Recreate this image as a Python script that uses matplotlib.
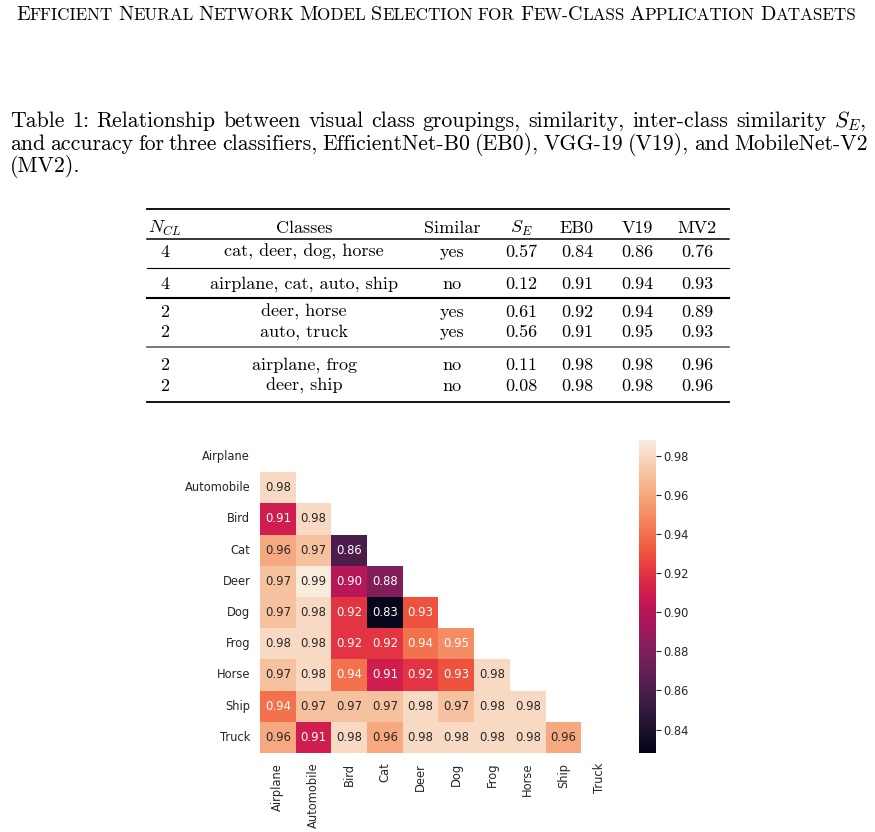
"""Table 1 page excerpt: caption, results table and pairwise accuracy heatmap."""
import matplotlib

matplotlib.use("Agg")
import matplotlib.pyplot as plt
from matplotlib.lines import Line2D
import numpy as np
import pandas as pd
import seaborn as sns

W, H = 875, 832
SERIF = "cmr10"
INK = "#262626"

TITLE = "Efficient Neural Network Model Selection for Few-Class Application Datasets"
CAPTION = [
    "Table 1: Relationship between visual class groupings, similarity, inter-class similarity $S_E$,",
    "and accuracy for three classifiers, EfficientNet-B0 (EB0), VGG-19 (V19), and MobileNet-V2",
    "(MV2).",
]

# table
table_head = ["$N_{CL}$", "Classes", "Similar", "$S_E$", "EB0", "V19", "MV2"]
n_cl = [4, 4, 2, 2, 2, 2]
groups = ["cat, deer, dog, horse", "airplane, cat, auto, ship", "deer, horse",
          "auto, truck", "airplane, frog", "deer, ship"]
similar = ["yes", "no", "yes", "yes", "no", "no"]
s_e = [0.57, 0.12, 0.61, 0.56, 0.11, 0.08]
acc_eb0 = [0.84, 0.91, 0.92, 0.91, 0.98, 0.98]
acc_v19 = [0.86, 0.94, 0.94, 0.95, 0.98, 0.98]
acc_mv2 = [0.76, 0.93, 0.89, 0.93, 0.96, 0.96]

# heatmap: two-class accuracy, lower triangle, row by row
classes = ["Airplane", "Automobile", "Bird", "Cat", "Deer", "Dog", "Frog",
           "Horse", "Ship", "Truck"]
pair_acc = [
    [],
    [0.98],
    [0.91, 0.98],
    [0.96, 0.97, 0.86],
    [0.97, 0.99, 0.90, 0.88],
    [0.97, 0.98, 0.92, 0.83, 0.93],
    [0.98, 0.98, 0.92, 0.92, 0.94, 0.95],
    [0.97, 0.98, 0.94, 0.91, 0.92, 0.93, 0.98],
    [0.94, 0.97, 0.97, 0.97, 0.98, 0.97, 0.98, 0.98],
    [0.96, 0.91, 0.98, 0.96, 0.98, 0.98, 0.98, 0.98, 0.96],
]
cbar_ticks = [0.84, 0.86, 0.88, 0.90, 0.92, 0.94, 0.96, 0.98]

plt.rcParams["mathtext.fontset"] = "cm"
plt.rcParams["xtick.color"] = INK
plt.rcParams["ytick.color"] = INK

fig = plt.figure(figsize=(W / 100, H / 100), dpi=100)
r = fig.canvas.get_renderer()


def px(x, y):
    return x / W, 1 - y / H


def width(t):
    return t.get_window_extent(r).width


def justified(line, x0, x1, y, size):
    words = line.split(" ")
    arts = [fig.text(*px(x0, y), w, family=SERIF, size=size, va="baseline")
            for w in words]
    ws = [width(a) for a in arts]
    gap = (x1 - x0 - sum(ws)) / (len(words) - 1)
    x = x0
    for a, w in zip(arts, ws):
        a.set_x(x / W)
        x += w + gap


def small_caps(text, x0, x1, y, big, small):
    words = []
    for word in text.split(" "):
        runs = []
        for ch in word:
            up = ch.isupper()
            if runs and runs[-1][1] == up:
                runs[-1][0] += ch.upper()
            else:
                runs.append([ch.upper(), up])
        arts = [fig.text(*px(x0, y), s, family=SERIF, size=big if up else small,
                         va="baseline") for s, up in runs]
        words.append((arts, [width(a) for a in arts]))
    total = sum(sum(ws) for _, ws in words)
    gap = (x1 - x0 - total) / (len(words) - 1)
    x = x0
    for arts, ws in words:
        for a, w in zip(arts, ws):
            a.set_x(x / W)
            x += w
        x += gap


# running header + caption
small_caps(TITLE, 16, 856, 20, 14.5, 12.3)
justified(CAPTION[0], 10, 866, 127, 15.7)
justified(CAPTION[1], 10, 868, 149.5, 15.7)
fig.text(*px(10, 172), CAPTION[2], family=SERIF, size=15.7, va="baseline")

# table
col_x = [165, 304, 452, 521, 577, 637, 697]
head_y = 233
row_y = [257, 289, 317, 337, 370, 391]
for cx, h in zip(col_x, table_head):
    fig.text(*px(cx, head_y), h, family=SERIF, size=13, ha="center", va="baseline")
rows = zip(n_cl, groups, similar, s_e, acc_eb0, acc_v19, acc_mv2)
for ry, vals in zip(row_y, rows):
    cells = [str(vals[0]), vals[1], vals[2]] + [f"{v:.2f}" for v in vals[3:]]
    for cx, c in zip(col_x, cells):
        fig.text(*px(cx, ry), c, family=SERIF, size=13, ha="center", va="baseline")

rules = [(208.5, 1.3, "black"), (239, 1.1, "black"), (268, 0.8, "black"),
         (298, 1.5, "black"), (347, 1.3, "#6e6e6e"), (402, 1.3, "black")]
for ry, lw, col in rules:
    (x0, y0), (x1, _) = px(147, ry), px(729, ry)
    fig.add_artist(Line2D([x0, x1], [y0, y0], lw=lw, color=col,
                          transform=fig.transFigure))

# heatmap
mat = np.full((len(classes), len(classes)), np.nan)
for i, row in enumerate(pair_acc):
    mat[i, :len(row)] = row
df = pd.DataFrame(mat, index=classes, columns=classes)

ax = fig.add_axes([260 / W, 1 - 753 / H, 357 / W, 312 / H])
cax = fig.add_axes([639 / W, 1 - 753 / H, 17 / W, 313 / H])
sns.heatmap(df, ax=ax, cbar_ax=cax, cmap="rocket", vmin=0.828, vmax=0.988,
            annot=True, fmt=".2f", annot_kws={"size": 8.4})
ax.set_xticks(np.arange(len(classes)) + 0.5)
ax.set_xticklabels(classes, rotation=90)
ax.set_yticks(np.arange(len(classes)) + 0.5)
ax.set_yticklabels(classes, rotation=0)
ax.tick_params(length=0, labelsize=8.3, pad=7, labelcolor=INK)
cax.set_yticks(cbar_ticks)
cax.set_yticklabels([f"{t:.2f}" for t in cbar_ticks])
cax.tick_params(labelsize=8.3, length=3.5, width=0.8, pad=2, labelcolor=INK)

fig.savefig("out.png", dpi=100)
